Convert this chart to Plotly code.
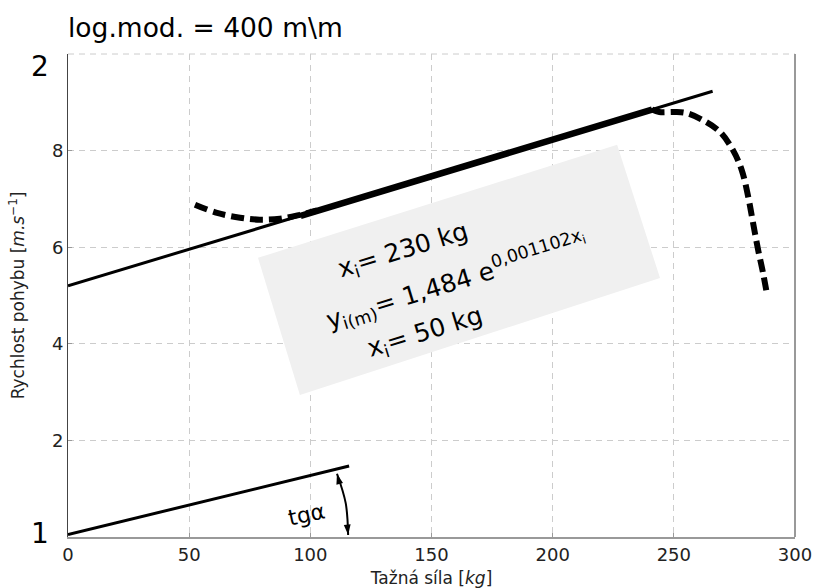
import plotly.graph_objects as go

# --- data -------------------------------------------------------------
# straight regression line of the speed
line_x = [0, 266]
line_y = [5.2, 9.23]

# bold stretch of the line (working range)
bold_x = [96, 241]
bold_y = [6.65, 8.85]

# measured curve, left and right branches (dashed)
curve_left_x = [52.4, 61.5, 71.0, 79.2, 87.5, 95.7, 102.8]
curve_left_y = [6.88, 6.71, 6.61, 6.57, 6.59, 6.67, 6.76]
curve_right_x = [241, 244, 250, 255, 262, 269, 274.4, 278, 280.7, 282.7, 284.8, 286.8, 288.5]
curve_right_y = [8.85, 8.80, 8.80, 8.78, 8.63, 8.39, 8.01, 7.60, 7.04, 6.50, 5.94, 5.47, 5.01]

# slope sketch near the origin
slope_x = [0, 116]
slope_y = [0.05, 1.47]

# curved double arrow marking the angle
arc_x = [111.0, 114.6, 115.6]
arc_y = [1.31, 0.70, 0.04]

# light label panel behind the formula
panel_x = [78.4, 226.6, 244.3, 95.7]
panel_y = [5.78, 8.12, 5.36, 2.94]

x_ticks = [0, 50, 100, 150, 200, 250, 300]
y_ticks = [2, 4, 6, 8]

FONT = "DejaVu Sans"
INK = "#000000"
GRID = "#cccccc"

fig = go.Figure()

fig.add_trace(go.Scatter(x=line_x, y=line_y, mode="lines",
                         line=dict(color=INK, width=3), showlegend=False))
fig.add_trace(go.Scatter(x=bold_x, y=bold_y, mode="lines",
                         line=dict(color=INK, width=6.5), showlegend=False))
for cx, cy in ((curve_left_x, curve_left_y), (curve_right_x, curve_right_y)):
    fig.add_trace(go.Scatter(x=cx, y=cy, mode="lines",
                             line=dict(color=INK, width=6, dash="13px,6px", shape="spline"),
                             showlegend=False))
fig.add_trace(go.Scatter(x=slope_x, y=slope_y, mode="lines",
                         line=dict(color=INK, width=3), showlegend=False))
fig.add_trace(go.Scatter(x=arc_x, y=arc_y, mode="lines",
                         line=dict(color=INK, width=2, shape="spline"), showlegend=False))
# arrowheads at both ends of the arc
fig.add_trace(go.Scatter(x=[arc_x[0], arc_x[-1]], y=[arc_y[0], arc_y[-1]], mode="markers",
                         marker=dict(symbol="arrow", size=11, color=INK, angle=[-15, 175],
                                     line=dict(width=0)),
                         showlegend=False))

# panel
path = "M " + " L ".join(f"{x},{y}" for x, y in zip(panel_x, panel_y)) + " Z"
fig.add_shape(type="path", path=path, xref="x", yref="y",
              fillcolor="#f0f0f0", line=dict(width=0), layer="between")

# top edge drawn as a dashed grid line, right spine solid
fig.add_shape(type="line", xref="paper", yref="paper", x0=0, x1=1, y0=1, y1=1,
              line=dict(color=GRID, width=1, dash="6px,5px"))
fig.add_shape(type="line", xref="paper", yref="paper", x0=1, x1=1, y0=0, y1=1,
              line=dict(color="#999999", width=2))

ann = []
ann.append(dict(x=98.6, y=0.47, xref="x", yref="y", text="tgα", showarrow=False,
                textangle=-12, font=dict(family=FONT, size=22, color=INK)))

# formula text
formula = [
    ("x<sub>i</sub>= 230 kg", 138.4, 5.92),
    ("y<sub>i(m)</sub>= 1,484 e<sup>0,001102x<sub>i</sub></sup>", 160.5, 5.30),
    ("x<sub>i</sub>= 50 kg", 147.5, 4.22),
]
for txt, fx, fy in formula:
    ann.append(dict(x=fx, y=fy, xref="x", yref="y", text=txt, showarrow=False,
                    textangle=-17, xanchor="center", yanchor="middle",
                    font=dict(family=FONT, size=25, color=INK)))

# large end labels of the y axis
ann.append(dict(x=0, y=10, xref="paper", yref="y", text="2", showarrow=False,
                xanchor="right", yanchor="middle", xshift=-17, yshift=-12,
                font=dict(family=FONT, size=28, color=INK)))
ann.append(dict(x=0, y=0, xref="paper", yref="y", text="1", showarrow=False,
                xanchor="right", yanchor="middle", xshift=-17, yshift=4,
                font=dict(family=FONT, size=28, color=INK)))

# heading
ann.append(dict(x=0, y=1, xref="paper", yref="paper", text="log.mod. = 400 m\\m",
                showarrow=False, xanchor="left", yanchor="middle", xshift=-2, yshift=27,
                font=dict(family=FONT, size=26.5, color=INK)))

fig.update_layout(
    width=818, height=588,
    margin=dict(l=68, r=23, t=54, b=51, autoexpand=False),
    paper_bgcolor="white", plot_bgcolor="white",
    font=dict(family=FONT, color="#222222"),
    annotations=ann,
    xaxis=dict(range=[0, 300], tickvals=x_ticks, ticktext=[str(v) for v in x_ticks],
               automargin=False,
               showgrid=True, gridcolor=GRID, griddash="6px,5px", gridwidth=1,
               zeroline=False, showline=True, linecolor="#999999", linewidth=2,
               ticks="inside", ticklen=4, tickcolor="#999999",
               tickfont=dict(family=FONT, size=18, color="#222222"),
               title=dict(text="Tažná síla [<i>kg</i>]", standoff=9,
                          font=dict(family=FONT, size=17, color="#222222"))),
    yaxis=dict(range=[0, 10], tickvals=y_ticks, ticktext=[str(v) for v in y_ticks],
               automargin=False,
               showgrid=True, gridcolor=GRID, griddash="6px,5px", gridwidth=1,
               zeroline=False, showline=True, linecolor="#444444", linewidth=1,
               ticks="inside", ticklen=4, tickcolor="#999999",
               tickfont=dict(family=FONT, size=18, color="#222222"),
               title=dict(text="Rychlost pohybu [<i>m.s</i><sup>−1</sup>]", standoff=22,
                          font=dict(family=FONT, size=17, color="#222222"))),
)

fig.write_html("out.html")
